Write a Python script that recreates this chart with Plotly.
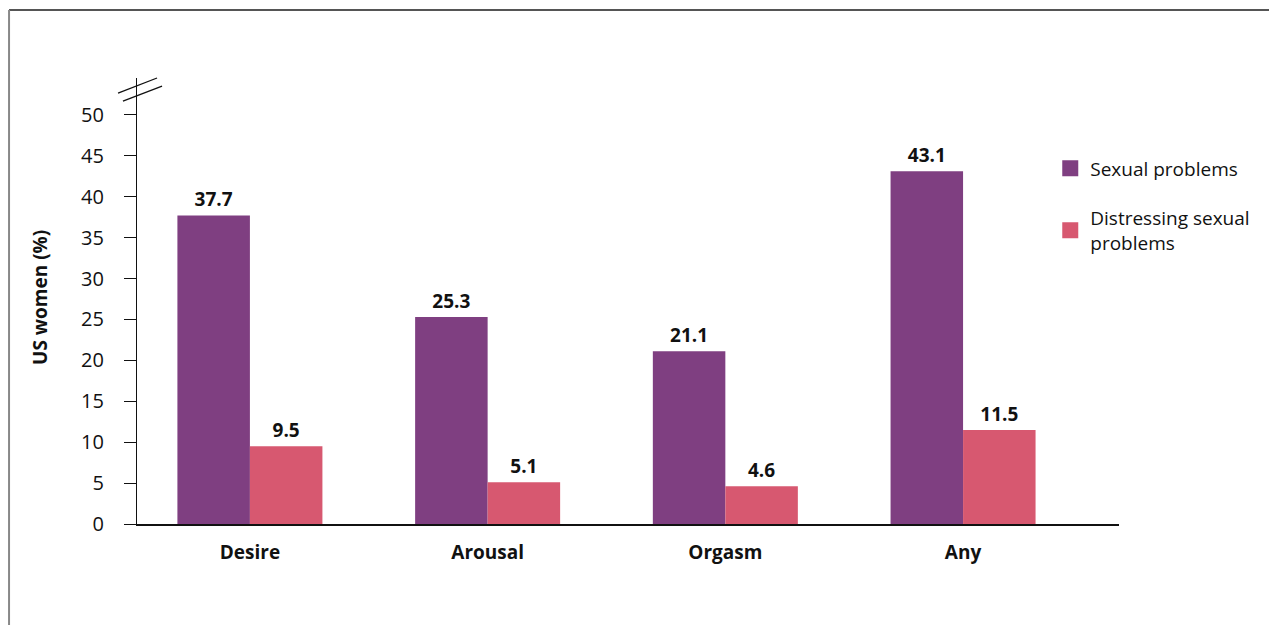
import plotly.graph_objects as go

# Prevalence of sexual problems among US women, by problem type
categories = ["Desire", "Arousal", "Orgasm", "Any"]
sexual_problems = [37.7, 25.3, 21.1, 43.1]
distressing_problems = [9.5, 5.1, 4.6, 11.5]
series_names = ["Sexual problems", "Distressing sexual<br>problems"]
y_ticks = [0, 5, 10, 15, 20, 25, 30, 35, 40, 45, 50]

PURPLE = "#7f3f81"
PINK = "#d75870"
FONT = "Open Sans"

x_pos = list(range(len(categories)))

fig = go.Figure()

for name, vals, color, grp in [
    (series_names[0], sexual_problems, PURPLE, "a"),
    (series_names[1], distressing_problems, PINK, "b"),
]:
    fig.add_trace(go.Bar(
        x=x_pos, y=vals, marker=dict(color=color, line=dict(width=0)),
        text=[f"{v:.1f}" for v in vals], textposition="outside",
        textfont=dict(family=FONT, size=19, color="#111111", weight="bold"),
        cliponaxis=False, showlegend=False, hoverinfo="skip",
    ))
    # square swatch for the legend entry
    fig.add_trace(go.Scatter(
        x=[None], y=[None], mode="markers", name=name, legendgroup=grp,
        marker=dict(symbol="square", size=16, color=color),
    ))

shapes = [
    # outer frame (top and left edges)
    dict(type="line", xref="paper", yref="paper", x0=-0.1303, x1=1.16,
         y0=1.1525, y1=1.1525, line=dict(color="#555555", width=2)),
    dict(type="line", xref="paper", yref="paper", x0=-0.1303, x1=-0.1303,
         y0=1.1525, y1=-0.25, line=dict(color="#888888", width=2)),
    # axis break marks
    dict(type="line", xref="paper", yref="paper", x0=-0.0193, x1=0.0204,
         y0=0.966, y1=1.0, line=dict(color="#111111", width=1.3)),
    dict(type="line", xref="paper", yref="paper", x0=-0.0143, x1=0.0255,
         y0=0.948, y1=0.982, line=dict(color="#111111", width=1.3)),
]

fig.update_layout(
    width=1269, height=625,
    margin=dict(l=137, r=150, t=78, b=101, autoexpand=False),
    paper_bgcolor="white", plot_bgcolor="white",
    barmode="group", bargap=0.39, bargroupgap=0,
    font=dict(family=FONT, size=19, color="#111111"),
    shapes=shapes,
    showlegend=True,
    legend=dict(
        x=0.93, y=0.84, xanchor="left", yanchor="top",
        font=dict(family=FONT, size=19, color="#111111"),
        tracegroupgap=22, itemsizing="trace", bgcolor="rgba(0,0,0,0)",
    ),
    annotations=[dict(
        text="<b>US women (%)</b>", textangle=-90, xref="paper", yref="paper",
        x=-0.0988, y=0.509, xanchor="center", yanchor="middle", showarrow=False,
        font=dict(family=FONT, size=19, color="#111111"),
    )],
)

fig.update_xaxes(
    range=[-0.475, 3.656], tickvals=x_pos,
    ticktext=[f"<b>{c}</b>" for c in categories],
    tickfont=dict(family=FONT, size=19, color="#111111"),
    ticklabelstandoff=10,
    showline=True, linecolor="#111111", linewidth=2,
    ticks="", showgrid=False, zeroline=False, fixedrange=True,
)
fig.update_yaxes(
    range=[0, 54.5], tickvals=y_ticks,
    tickfont=dict(family=FONT, size=20, color="#111111"),
    showline=True, linecolor="#111111", linewidth=1.3,
    ticks="outside", ticklen=12, tickcolor="#111111", tickwidth=1.3,
    ticklabelstandoff=16,
    showgrid=False, zeroline=False, fixedrange=True,
)

fig.write_html("out.html", config={"displayModeBar": False})
